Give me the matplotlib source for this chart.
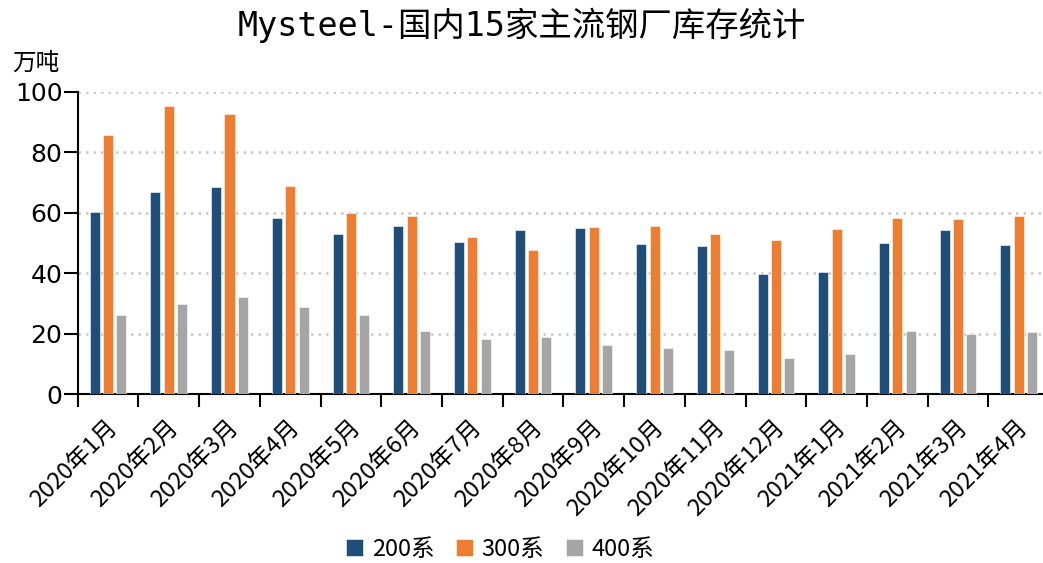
import matplotlib
matplotlib.use("Agg")
import matplotlib.pyplot as plt
import matplotlib.transforms as mtransforms
import numpy as np

categories = ["2020年1月", "2020年2月", "2020年3月", "2020年4月", "2020年5月", "2020年6月",
              "2020年7月", "2020年8月", "2020年9月", "2020年10月", "2020年11月", "2020年12月",
              "2021年1月", "2021年2月", "2021年3月", "2021年4月"]
s200 = [60.2, 66.8, 68.5, 58.4, 53.1, 55.5, 50.3, 54.3, 55.1, 49.7, 49.1, 39.8, 40.5, 49.9, 54.2, 49.4]
s300 = [85.6, 95.3, 92.6, 68.8, 59.8, 58.9, 51.9, 47.8, 55.3, 55.5, 52.9, 51.0, 54.6, 58.2, 57.8, 59.0]
s400 = [26.3, 29.7, 32.2, 29.0, 26.3, 21.0, 18.3, 18.9, 16.2, 15.3, 14.5, 12.1, 13.2, 20.9, 20.0, 20.6]
series_names = ["200系", "300系", "400系"]
colors = ["#1F4E79", "#ED7D31", "#A5A5A5"]
yticks = [0, 20, 40, 60, 80, 100]

plt.rcParams['font.family'] = ['DejaVu Sans', 'Noto Sans CJK SC']
cjk = ['Noto Sans CJK SC', 'DejaVu Sans']

fig = plt.figure(figsize=(10.43, 5.63), dpi=100)
ax = fig.add_axes([77.7 / 1043, 1 - 394.3 / 563, 971.5 / 1043, (394.3 - 91.7) / 563])

x = np.arange(len(categories))
w = 0.165
step = 0.22
for i, (vals, name, c) in enumerate(zip([s200, s300, s400], series_names, colors)):
    ax.bar(x + (i - 1) * step, vals, width=w, color=c, label=name, zorder=3,
           edgecolor='white', linewidth=0.4)

ax.set_xlim(-0.5, len(categories) - 0.5)
ax.set_ylim(0, 100)
ax.set_yticks(yticks)
ax.yaxis.grid(True, linestyle=(0, (1, 2)), color='#C8C8C8', linewidth=1.8, zorder=0)
ax.set_axisbelow(True)

for s in ['top', 'right']:
    ax.spines[s].set_visible(False)
for s in ['left', 'bottom']:
    ax.spines[s].set_linewidth(1.5)
    ax.spines[s].set_color('black')

ax.tick_params(axis='y', length=10, width=1.5, labelsize=18, pad=1)
ax.set_xticks(x)
ax.set_xticklabels(categories, rotation=45, ha='right', rotation_mode='anchor',
                   fontsize=17, family=cjk)
ax.tick_params(axis='x', which='major', length=0, pad=16)
offset = mtransforms.ScaledTranslation(-2 / 100, 0, fig.dpi_scale_trans)
for lab in ax.get_xticklabels():
    lab.set_transform(lab.get_transform() + offset)
ax.set_xticks(np.arange(-0.5, len(categories) + 0.5, 1), minor=True)
ax.tick_params(axis='x', which='minor', length=9, width=1.5)

fig.text(0.5, 0.955, "Mysteel-国内15家主流钢厂库存统计", ha='center', va='center',
         fontsize=24, family=['DejaVu Sans Mono', 'Noto Sans CJK SC'])
fig.text(12 / 1043, 1 - 63 / 563, "万吨", ha='left', va='center', fontsize=17, family=cjk)

leg = fig.legend(loc='center', bbox_to_anchor=(500 / 1043, 1 - 549 / 563), ncol=3,
                 frameon=False, prop={'family': cjk, 'size': 17},
                 handlelength=0.75, handleheight=0.75, handletextpad=0.35, columnspacing=0.9)

fig.savefig("out.png", dpi=100)
